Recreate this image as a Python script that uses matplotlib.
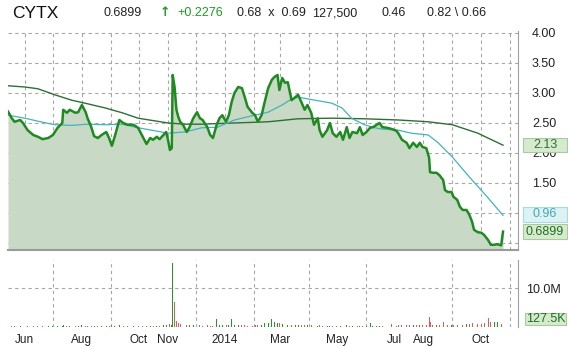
import matplotlib
matplotlib.use("Agg")
import matplotlib.pyplot as plt
import matplotlib.dates as mdates
import matplotlib.transforms as mtransforms
from matplotlib.patches import Rectangle
import numpy as np

plt.rcParams['font.family'] = ['Liberation Sans', 'DejaVu Sans']

# daily closes, day offsets counted from 2013-05-14
start = np.datetime64('2013-05-14')
price_day = [0, 4, 7, 13, 16, 21, 27, 32, 37, 43, 48, 53, 58, 59, 63, 66, 72, 75, 79, 83,
             85, 89, 92, 96, 100, 105, 108, 111, 114, 119, 123, 128, 134, 139,
             144, 148, 152, 155, 159, 162, 166, 169, 171, 173, 175, 176, 178, 180, 182, 184,
             187, 191, 194, 198, 202, 205, 208, 213, 216, 219, 223, 226, 229, 233, 236, 239,
             242, 246, 250, 253, 256, 261, 264, 267, 271, 274,
             278, 282, 285, 288, 290, 293, 296, 299, 303, 307, 310, 314, 317, 320, 324, 327,
             331, 333, 336, 341, 344, 347, 351, 355, 358, 362, 365, 368, 373, 376, 379, 383,
             387, 390, 394, 397, 400, 405, 410, 415,
             417, 421, 426, 429, 433, 437, 440, 443, 447, 450, 451, 454, 458, 461, 465, 467,
             470, 474, 476, 480, 483, 486, 490, 493, 496, 498, 502, 506, 509, 513, 516, 520,
             523, 527, 529]
price = [2.69, 2.58, 2.52, 2.55, 2.50, 2.38, 2.30, 2.27, 2.23, 2.25, 2.30, 2.42, 2.50, 2.72,
         2.67, 2.72, 2.67, 2.68, 2.80, 2.68, 2.58, 2.43, 2.28, 2.25, 2.30, 2.35, 2.25, 2.12,
         2.27, 2.55, 2.50, 2.47, 2.47, 2.42,
         2.27, 2.15, 2.25, 2.22, 2.27, 2.23, 2.30, 2.35, 2.22, 2.05, 2.08, 3.30, 3.10, 2.72,
         2.60, 2.52, 2.47, 2.35, 2.43, 2.58, 2.68, 2.58, 2.55, 2.43, 2.30, 2.25, 2.47, 2.58,
         2.63, 2.52, 2.63, 2.85, 3.00, 3.10, 3.08, 2.93, 2.77, 2.67, 2.63, 2.52, 2.63, 2.83,
         3.08, 3.22, 3.27, 3.30, 3.05, 3.25, 3.17, 3.18, 2.88, 2.93, 2.97, 2.83, 2.72, 2.80,
         2.67, 2.47, 2.58, 2.38, 2.27, 2.38, 2.50, 2.33, 2.27, 2.35, 2.22, 2.43, 2.25, 2.35,
         2.33, 2.43, 2.30, 2.35, 2.42, 2.43, 2.47, 2.50, 2.43, 2.42, 2.40, 2.37,
         2.33, 2.22, 2.17, 2.08, 2.17, 2.10, 2.17, 2.10, 2.08, 1.92, 1.68, 1.67, 1.67, 1.63,
         1.55, 1.38, 1.35, 1.35, 1.27, 1.22, 1.10, 1.05, 1.05, 0.97, 0.85, 0.72, 0.68, 0.67,
         0.63, 0.55, 0.47, 0.47, 0.48, 0.46, 0.69]
# volume in millions, same days as price
volume = [0.3, 0.2, 0.2, 0.15, 0.2, 0.25, 0.2, 0.15, 0.2, 0.2, 0.2, 0.3, 0.25, 0.5, 0.3,
          0.3, 0.2, 0.25, 0.4, 0.3, 0.2, 0.25, 0.3, 0.2, 0.2, 0.25, 0.2, 0.4, 0.3, 0.6,
          0.3, 0.2, 0.25, 0.2,
          0.3, 0.3, 0.2, 0.3, 0.3, 0.25, 0.4, 0.5, 0.4, 0.8, 0.6, 16.4, 6.4, 1.6, 1.0, 0.8,
          0.7, 0.6, 0.6, 0.5, 0.5, 0.4, 0.3, 0.4, 0.3, 0.3, 2.0, 0.6, 0.5, 0.6, 0.5, 2.1,
          0.6, 0.5, 0.4, 0.4, 0.3, 0.3, 0.4, 0.4, 0.5, 0.9,
          1.0, 2.1, 1.2, 1.0, 0.9, 0.8, 0.7, 0.6, 0.6, 0.5, 0.5, 0.4, 0.5, 0.4, 0.5, 0.6,
          0.3, 0.4, 0.3, 0.3, 0.3, 0.3, 0.2, 0.3, 0.3, 0.4, 0.3, 0.3, 0.3, 0.3, 0.2, 0.3,
          0.9, 0.3, 0.3, 0.3, 0.3, 0.4, 0.8, 0.3,
          0.4, 0.5, 0.4, 0.6, 0.5, 0.4, 0.5, 0.5, 0.6, 2.5, 1.2, 0.6, 0.5, 0.5, 1.3, 0.7,
          0.5, 0.5, 0.5, 0.6, 0.7, 0.6, 0.8, 0.7, 0.9, 1.0, 0.8, 0.7, 0.9, 2.2, 1.3, 1.2,
          1.3, 0.8, 0.1275]

ma200_day = [0, 18, 32, 50, 68, 85, 104, 122, 139, 171, 189, 207, 242, 278, 310, 346, 381,
             417, 449, 475, 502, 529]
ma200 = [3.12, 3.10, 3.07, 2.97, 2.88, 2.82, 2.75, 2.67, 2.58, 2.50, 2.48, 2.48, 2.50, 2.52,
         2.57, 2.58, 2.57, 2.55, 2.52, 2.47, 2.33, 2.13]
ma50_day = [0, 18, 32, 50, 68, 85, 104, 122, 139, 171, 189, 207, 224, 242, 261, 278, 293,
            301, 310, 328, 346, 357, 367, 381, 392, 399, 417, 431, 449, 459, 475, 493, 512, 529]
ma50 = [2.63, 2.58, 2.53, 2.47, 2.46, 2.48, 2.47, 2.48, 2.42, 2.33, 2.35, 2.42, 2.43, 2.55,
        2.62, 2.68, 2.80, 2.88, 2.93, 2.88, 2.83, 2.75, 2.58, 2.47, 2.42, 2.40, 2.38, 2.33,
        2.30, 2.18, 1.93, 1.60, 1.27, 0.96]

month_ticks = ['2013-06-01', '2013-08-01', '2013-10-01', '2013-11-01', '2014-01-01',
               '2014-03-01', '2014-05-01', '2014-07-01', '2014-08-01', '2014-10-01']
month_labels = ['Jun', 'Aug', 'Oct', 'Nov', '2014', 'Mar', 'May', 'Jul', 'Aug', 'Oct']


def to_dates(days):
    return start + np.array(days).astype('timedelta64[D]')


dates = to_dates(price_day)
price = np.array(price)
grid_kw = dict(color='#a6a6a6', lw=0.8, ls=(0, (3, 3)))

fig = plt.figure(figsize=(5.68, 3.49), dpi=100)
ax = fig.add_axes([8 / 568, 99 / 349, 510 / 568, 219 / 349])
axv = fig.add_axes([8 / 568, 22 / 349, 510 / 568, 67 / 349])
xlim = (start, start + np.timedelta64(545, 'D'))

# price panel
ax.fill_between(dates, price, 0, color='#c8d9c5', lw=0, zorder=1)
ax.plot(to_dates(ma200_day), ma200, color='#2f6e35', lw=1.0, zorder=3)
ax.plot(to_dates(ma50_day), ma50, color='#45b3b8', lw=0.9, zorder=3)
ax.plot(dates, price, color='#1f8a22', lw=1.8, zorder=4)
ax.set_xlim(*xlim)
ax.set_ylim(0.383, 4.033)
ax.set_yticks(np.arange(0.5, 4.01, 0.5))
ax.set_yticklabels(['' if v < 0.9 else f'{v:.2f}' for v in np.arange(0.5, 4.01, 0.5)])
ax.yaxis.tick_right()
ax.tick_params(axis='y', length=0, pad=10, labelsize=9, colors='#222222')
ax.xaxis.set_major_locator(mdates.MonthLocator())
ax.tick_params(axis='x', length=0, labelbottom=False)
ax.grid(True, **grid_kw)
ax.set_axisbelow(True)
for s in ['top', 'left']:
    ax.spines[s].set_visible(False)
ax.spines['right'].set_color('#a0a0a0')
ax.spines['bottom'].set_color('#9a9a9a')
ax.spines['bottom'].set_linewidth(1.5)

# value tags at the right of the price panel
trans = mtransforms.blended_transform_factory(ax.transAxes, ax.transData)
tags = [(2.13, '2.13', '#2f6e35', '#d6ebcd', '#a9c9a0'),
        (0.975, '0.96', '#45a8b0', '#dcf2f4', '#a8dbe0'),
        (0.69, '0.6899', '#1f6e22', '#d6ebcd', '#a9c9a0')]
for yv, txt, tc, fc, ec in tags:
    ax.add_patch(Rectangle((1.0098, yv - 0.12), 0.0863, 0.24, transform=trans,
                           facecolor=fc, edgecolor=ec, lw=0.8, clip_on=False, zorder=5))
    ax.text(1.053, yv, txt, transform=trans, ha='center', va='center',
            fontsize=9, color=tc, zorder=6, clip_on=False)

# volume panel
up = np.r_[True, np.diff(price) >= 0]
vcol = np.where(up, '#1f9a22', '#e05a5a')
axv.bar(dates, volume, width=1.0, color=vcol, lw=0, zorder=3)
axv.set_xlim(*xlim)
axv.set_ylim(0, 17.2)
axv.set_yticks([10])
axv.set_yticklabels(['10.0M'])
axv.yaxis.tick_right()
axv.tick_params(axis='y', length=0, pad=6, labelsize=9, colors='#222222')
axv.xaxis.set_minor_locator(mdates.MonthLocator())
axv.set_xticks(np.array(month_ticks, dtype='datetime64[D]'))
axv.set_xticklabels(month_labels)
axv.tick_params(axis='x', which='both', length=0, pad=5, labelsize=8.5, colors='#222222')
axv.grid(True, which='minor', axis='x', **grid_kw)
axv.grid(True, which='major', axis='y', **grid_kw)
axv.axhline(0, zorder=1, **grid_kw)
for s in ['top', 'left', 'bottom']:
    axv.spines[s].set_visible(False)
axv.spines['right'].set_color('#a0a0a0')

fig.patches.append(Rectangle((525 / 568, 24 / 349), 41 / 568, 12 / 349,
                             transform=fig.transFigure, facecolor='#d6ebcd',
                             edgecolor='#a9c9a0', lw=0.8))
fig.text(545.5 / 568, 30 / 349, '127.5K', ha='center', va='center', fontsize=9,
         color='#1f6e22')

# header line
hy = 1 - 13 / 349
fig.text(12 / 568, hy, 'CYTX', fontsize=12.5, va='center', color='#111111')
fig.text(103 / 568, hy, '0.6899', fontsize=9, va='center', color='#222222')
fig.text(160 / 568, hy, '\u2191', fontsize=9, va='center', color='#1f9a22',
         family=['DejaVu Sans'], weight='bold')
fig.text(177 / 568, hy, '+0.2276', fontsize=9, va='center', color='#1f9a22')
fig.text(237 / 568, hy, '0.68  x  0.69', fontsize=9, va='center', color='#222222')
fig.text(312 / 568, hy, '127,500', fontsize=9, va='center', color='#222222')
fig.text(381 / 568, hy, '0.46', fontsize=9, va='center', color='#222222')
fig.text(427 / 568, hy, '0.82 \\ 0.66', fontsize=9, va='center', color='#222222')

fig.savefig('out.png', dpi=100, facecolor='white')
